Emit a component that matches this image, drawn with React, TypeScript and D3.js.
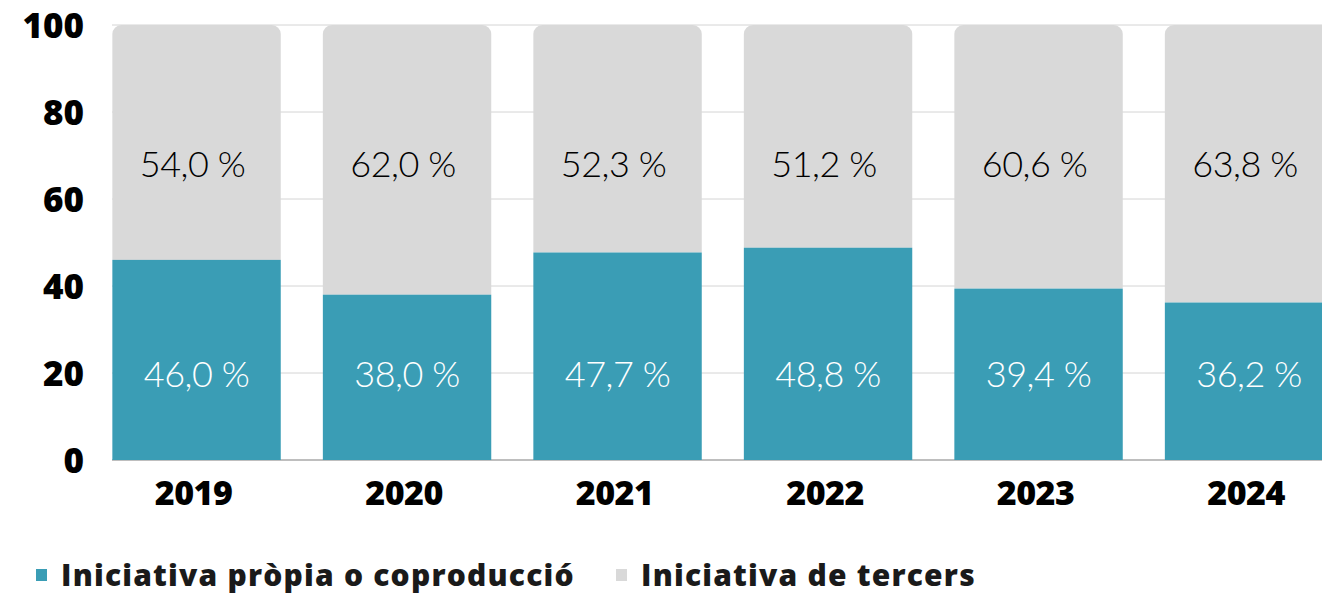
import * as d3 from "d3";

const years = ["2019", "2020", "2021", "2022", "2023", "2024"];
const propia = [46.0, 38.0, 47.7, 48.8, 39.4, 36.2];
const tercers = [54.0, 62.0, 52.3, 51.2, 60.6, 63.8];
const yTicks = [0, 20, 40, 60, 80, 100];
const seriesNames = ["Iniciativa pròpia o coproducció", "Iniciativa de tercers"];
const colors = ["#3a9db5", "#d9d9d9"];

const width = 1322;
const height = 595;

const fmt = (v: number) => d3.format(".1f")(v).replace(".", ",") + " %";

export default function App() {
  const x = d3
    .scaleBand<string>()
    .domain(years)
    .range([91.3, 1354.3])
    .paddingInner(0.2)
    .paddingOuter(0.1);
  const y = d3.scaleLinear().domain([0, 100]).range([460, 25]);
  const r = 9;

  // gray bar with rounded top corners
  const topRounded = (x0: number, y0: number, w: number, y1: number) => {
    const p = d3.path();
    p.moveTo(x0, y1);
    p.lineTo(x0, y0 + r);
    p.arcTo(x0, y0, x0 + r, y0, r);
    p.lineTo(x0 + w - r, y0);
    p.arcTo(x0 + w, y0, x0 + w, y0 + r, r);
    p.lineTo(x0 + w, y1);
    p.closePath();
    return p.toString();
  };

  return (
    <div style={{ position: "fixed", left: 0, top: 0 }}>
      <svg width={width} height={height} style={{ display: "block", background: "#fff" }}>
        {yTicks.map((t) => (
          <g key={t}>
            <line
              x1={112}
              x2={width}
              y1={y(t)}
              y2={y(t)}
              stroke={t === 0 ? "#a8a8a8" : "#d4d4d4"}
              strokeWidth={t === 0 ? 1.5 : 1}
            />
            <text
              x={84}
              y={y(t)}
              dy="0.36em"
              textAnchor="end"
              fontFamily="'Open Sans', sans-serif"
              fontWeight={800}
              fontSize={35}
              fill="#000"
            >
              {t}
            </text>
          </g>
        ))}
        {years.map((yr, i) => {
          const bx = x(yr)!;
          const bw = x.bandwidth();
          const cx = bx + bw / 2;
          return (
            <g key={yr}>
              <path d={topRounded(bx, y(100), bw, y(propia[i]))} fill={colors[1]} />
              <rect x={bx} y={y(propia[i])} width={bw} height={y(0) - y(propia[i])} fill={colors[0]} />
              <text
                x={cx - 4}
                y={y(68)}
                dy="0.36em"
                textAnchor="middle"
                fontFamily="Lato, sans-serif"
                fontWeight={300}
                fontSize={36}
                letterSpacing={-0.5}
                fill="#000"
              >
                {fmt(tercers[i])}
              </text>
              <text
                x={cx}
                y={y(19.8)}
                dy="0.36em"
                textAnchor="middle"
                fontFamily="Lato, sans-serif"
                fontWeight={300}
                fontSize={36}
                letterSpacing={-0.5}
                fill="#fff"
              >
                {fmt(propia[i])}
              </text>
              <text
                x={cx - 3}
                y={493}
                dy="0.36em"
                textAnchor="middle"
                fontFamily="'Open Sans', sans-serif"
                fontWeight={800}
                fontSize={34}
                letterSpacing={-0.5}
                fill="#000"
              >
                {yr}
              </text>
            </g>
          );
        })}
        {seriesNames.map((name, i) => {
          const lx = [36, 616][i];
          return (
            <g key={name}>
              <rect x={lx} y={569} width={11} height={12} fill={colors[i]} />
              <text
                x={lx + 25}
                y={575}
                dy="0.36em"
                fontFamily="'Open Sans', sans-serif"
                fontWeight={800}
                fontSize={30}
                letterSpacing={1.2}
                fill="#1a1a1a"
              >
                {name}
              </text>
            </g>
          );
        })}
      </svg>
    </div>
  );
}
